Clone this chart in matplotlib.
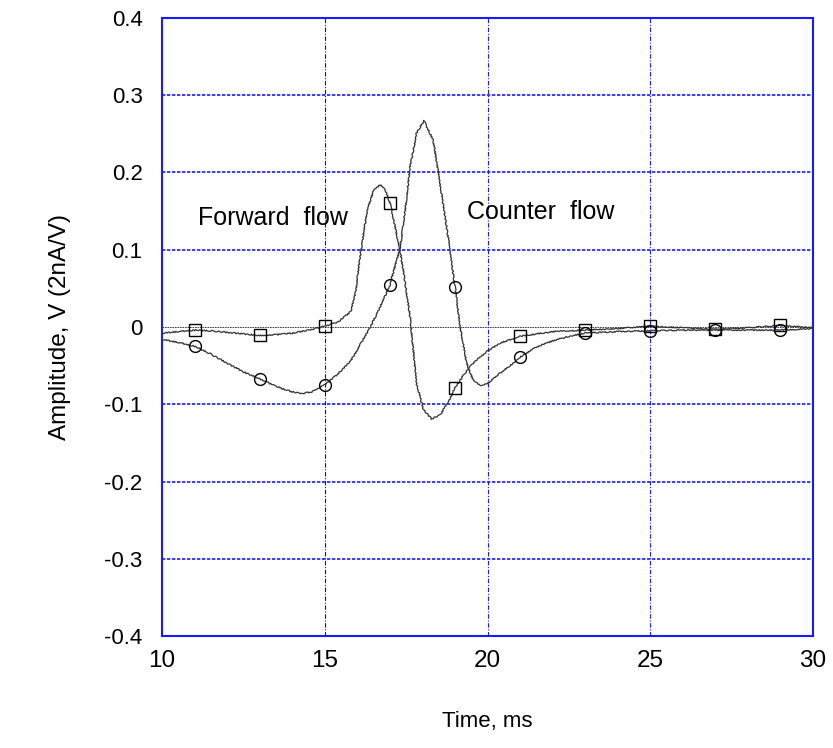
import numpy as np
import matplotlib
matplotlib.use('Agg')
from matplotlib import pyplot as plt

plt.rcParams['font.family'] = ['Liberation Sans', 'DejaVu Sans']

# forward flow trace (square markers)
t_fwd = [10.0, 10.5, 11.0, 11.5, 12.0, 12.5, 13.0, 13.5, 14.0, 14.5, 15.0, 15.4,
         15.8, 15.95, 16.05, 16.15, 16.3, 16.5, 16.7, 16.85, 17.0, 17.16, 17.31,
         17.47, 17.62, 17.82, 18.03, 18.28, 18.54, 18.8, 19.0, 19.3, 19.56, 20.0,
         20.38, 21.0, 21.5, 22.0, 23.0, 24.0, 25.0, 26.0, 27.0, 28.0, 29.0, 30.0]
v_fwd = [-0.008, -0.006, -0.004, -0.005, -0.007, -0.009, -0.011, -0.010, -0.008,
         -0.004, 0.001, 0.006, 0.020, 0.045, 0.080, 0.110, 0.150, 0.177, 0.184,
         0.178, 0.161, 0.130, 0.100, 0.057, 0.013, -0.073, -0.107, -0.119, -0.114,
         -0.097, -0.079, -0.060, -0.047, -0.031, -0.021, -0.012, -0.009, -0.006,
         -0.004, -0.002, 0.001, -0.001, -0.003, -0.001, 0.002, -0.001]

# counter flow trace (circle markers)
t_cnt = [10.0, 10.5, 11.0, 11.5, 12.0, 12.5, 13.0, 13.5, 14.0, 14.3, 14.6, 15.0,
         15.4, 15.8, 16.1, 16.4, 16.7, 17.0, 17.21, 17.31, 17.47, 17.62, 17.82,
         18.05, 18.33, 18.54, 18.8, 19.0, 19.16, 19.36, 19.56, 19.77, 20.0, 20.38,
         20.7, 21.0, 21.5, 22.0, 22.5, 23.0, 24.0, 25.0, 26.0, 27.0, 28.0, 29.0,
         30.0]
v_cnt = [-0.016, -0.020, -0.025, -0.035, -0.047, -0.058, -0.067, -0.077, -0.084,
         -0.086, -0.084, -0.075, -0.061, -0.044, -0.022, 0.000, 0.026, 0.054,
         0.087, 0.100, 0.151, 0.207, 0.251, 0.267, 0.242, 0.186, 0.113, 0.052,
         0.000, -0.047, -0.069, -0.076, -0.073, -0.060, -0.050, -0.039, -0.026,
         -0.018, -0.012, -0.008, -0.006, -0.005, -0.004, -0.004, -0.004, -0.004,
         -0.002]

marker_times = [11, 13, 15, 17, 19, 21, 23, 25, 27, 29]
x_ticks = [10, 15, 20, 25, 30]
y_ticks = [-0.4, -0.3, -0.2, -0.1, 0, 0.1, 0.2, 0.3, 0.4]
y_tick_labels = ['-0.4', '-0.3', '-0.2', '-0.1', '0', '0.1', '0.2', '0.3', '0.4']

fig = plt.figure(figsize=(8.33, 7.48), dpi=100)
ax = fig.add_axes([0.1945, 0.1497, 0.7815, 0.8263])

ax.set_xlim(10, 30)
ax.set_ylim(-0.4, 0.4)

# grid: blue dash-dot, with the 15 ms and zero lines in dark ink
for x in x_ticks[1:-1]:
    color = '#1a1a40' if x == 15 else '#1a1aff'
    ax.axvline(x, color=color, lw=0.8, ls=(0, (4, 1.5, 1, 1.5)), zorder=1)
for y in y_ticks[1:-1]:
    color = '#1a1a40' if y == 0 else '#1a1aff'
    lw = 0.6 if y == 0 else 1.2
    ax.axhline(y, color=color, lw=lw, ls=(0, (2, 1)), zorder=1)


def trace(t, v, marker):
    t = np.array(t)
    v = np.array(v)
    line, = ax.plot(t, v, color='#333333', lw=0.9, zorder=3)
    line.set_sketch_params(scale=0.6, length=2.0, randomness=4.0)
    keep = np.isin(t, marker_times)
    ax.plot(t[keep], v[keep], ls='none', marker=marker, ms=8.5, mfc='none',
            mec='black', mew=1.0, zorder=4)


trace(t_fwd, v_fwd, 's')
trace(t_cnt, v_cnt, 'o')

ax.text(11.1, 0.141, 'Forward  flow', fontsize=18, va='center', ha='left')
ax.text(19.37, 0.149, 'Counter  flow', fontsize=18, va='center', ha='left')

ax.set_xticks(x_ticks)
ax.set_yticks(y_ticks)
ax.set_yticklabels(y_tick_labels)
ax.tick_params(length=0)
ax.tick_params(axis='y', pad=14, labelsize=16)
ax.tick_params(axis='x', pad=10, labelsize=17.5)

for side in ax.spines.values():
    side.set_color('#1a1aff')
    side.set_linewidth(1.5)

ax.set_xlabel('Time, ms', fontsize=16, labelpad=28)
ax.set_ylabel('Amplitude, V (2nA/V)', fontsize=17.5, labelpad=24)

fig.savefig('out.png', dpi=100)
